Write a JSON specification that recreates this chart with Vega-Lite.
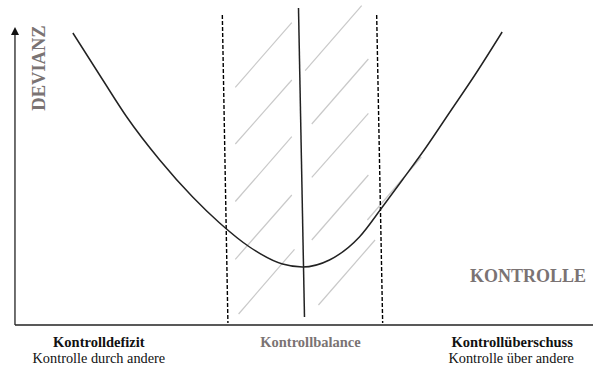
{
  "$schema": "https://vega.github.io/schema/vega-lite/v6.json",
  "width": 594,
  "height": 371,
  "autosize": {"type": "fit", "contains": "padding"},
  "padding": 0,
  "background": "white",
  "config": {"view": {"stroke": null}},
  "datasets": {
    "curve": [
      {"x": 73, "y": 33}, {"x": 103, "y": 80}, {"x": 127, "y": 117}, {"x": 160, "y": 160},
      {"x": 193, "y": 197}, {"x": 220, "y": 223}, {"x": 250, "y": 247}, {"x": 283, "y": 264},
      {"x": 303, "y": 267}, {"x": 330, "y": 260}, {"x": 360, "y": 237}, {"x": 383, "y": 207},
      {"x": 403, "y": 180}, {"x": 427, "y": 147}, {"x": 450, "y": 113}, {"x": 477, "y": 73},
      {"x": 503, "y": 32}
    ],
    "hatch": [
      {"x": 235.7, "y": 87.3, "x2": 292.3, "y2": 22.7},
      {"x": 235.7, "y": 144, "x2": 292.3, "y2": 80},
      {"x": 235.7, "y": 201.5, "x2": 292.3, "y2": 136.7},
      {"x": 235.7, "y": 259.3, "x2": 292.3, "y2": 195},
      {"x": 239, "y": 314, "x2": 295, "y2": 249.3},
      {"x": 305.7, "y": 70.7, "x2": 362.3, "y2": 5.7},
      {"x": 312.3, "y": 124, "x2": 369, "y2": 59},
      {"x": 312.3, "y": 177.3, "x2": 369, "y2": 113.3},
      {"x": 312.3, "y": 240, "x2": 369, "y2": 175},
      {"x": 319, "y": 305, "x2": 375.7, "y2": 240},
      {"x": 368, "y": 220, "x2": 422, "y2": 157}
    ],
    "dashed": [
      {"x": 222.7, "y": 15, "x2": 228.3, "y2": 323},
      {"x": 377.3, "y": 15, "x2": 383.3, "y2": 323}
    ],
    "solid": [
      {"x": 299, "y": 8, "x2": 305, "y2": 317}
    ],
    "axes": [
      {"x": 15, "y": 325, "x2": 594, "y2": 325},
      {"x": 15, "y": 325, "x2": 15, "y2": 33}
    ],
    "arrow": [{"x": 15, "y": 31}],
    "boldBlack": [
      {"x": 99, "y": 347, "label": "Kontrolldefizit"},
      {"x": 513, "y": 347, "label": "Kontrollüberschuss"}
    ],
    "normalBlack": [
      {"x": 99, "y": 363, "label": "Kontrolle durch andere"},
      {"x": 512, "y": 363, "label": "Kontrolle über andere"}
    ],
    "grayLabels": [
      {"x": 311, "y": 347, "label": "Kontrollbalance", "size": 14.5},
      {"x": 529, "y": 282, "label": "KONTROLLE", "size": 18}
    ],
    "yLabel": [{"x": 39, "y": 68, "label": "DEVIANZ"}]
  },
  "encoding": {
    "x": {"field": "x", "type": "quantitative", "scale": {"domain": [0, 594], "nice": false, "zero": false}, "axis": null},
    "y": {"field": "y", "type": "quantitative", "scale": {"domain": [0, 371], "nice": false, "zero": false, "reverse": true}, "axis": null}
  },
  "layer": [
    {
      "data": {"name": "hatch"},
      "mark": {"type": "rule", "color": "#c9c9c9", "strokeWidth": 1.2},
      "encoding": {"x2": {"field": "x2"}, "y2": {"field": "y2"}}
    },
    {
      "data": {"name": "dashed"},
      "mark": {"type": "rule", "color": "#000000", "strokeWidth": 1.4, "strokeDash": [4, 2]},
      "encoding": {"x2": {"field": "x2"}, "y2": {"field": "y2"}}
    },
    {
      "data": {"name": "solid"},
      "mark": {"type": "rule", "color": "#222222", "strokeWidth": 1.5},
      "encoding": {"x2": {"field": "x2"}, "y2": {"field": "y2"}}
    },
    {
      "data": {"name": "curve"},
      "mark": {"type": "line", "color": "#222222", "strokeWidth": 1.5, "interpolate": "monotone"},
      "encoding": {}
    },
    {
      "data": {"name": "axes"},
      "mark": {"type": "rule", "color": "#222222", "strokeWidth": 1.3},
      "encoding": {"x2": {"field": "x2"}, "y2": {"field": "y2"}}
    },
    {
      "data": {"name": "arrow"},
      "mark": {"type": "point", "shape": "M0,-1L1,1L-1,1Z", "size": 64, "filled": true, "color": "#111111", "opacity": 1}
    },
    {
      "data": {"name": "boldBlack"},
      "mark": {"type": "text", "font": "Times New Roman, Liberation Serif, DejaVu Serif, serif", "fontWeight": "bold", "fontSize": 14.5, "color": "#111111", "align": "center", "baseline": "alphabetic"},
      "encoding": {"text": {"field": "label"}}
    },
    {
      "data": {"name": "normalBlack"},
      "mark": {"type": "text", "font": "Times New Roman, Liberation Serif, DejaVu Serif, serif", "fontSize": 14.3, "color": "#111111", "align": "center", "baseline": "alphabetic"},
      "encoding": {"text": {"field": "label"}}
    },
    {
      "data": {"name": "grayLabels"},
      "mark": {"type": "text", "font": "Times New Roman, Liberation Serif, DejaVu Serif, serif", "fontWeight": "bold", "color": "#7a7373", "align": "center", "baseline": "alphabetic"},
      "encoding": {"text": {"field": "label"}, "size": {"field": "size", "type": "quantitative", "scale": null}}
    },
    {
      "data": {"name": "yLabel"},
      "mark": {"type": "text", "font": "Times New Roman, Liberation Serif, DejaVu Serif, serif", "fontWeight": "bold", "fontSize": 18.5, "color": "#7a7373", "align": "center", "baseline": "middle", "angle": 270},
      "encoding": {"text": {"field": "label"}}
    }
  ]
}
